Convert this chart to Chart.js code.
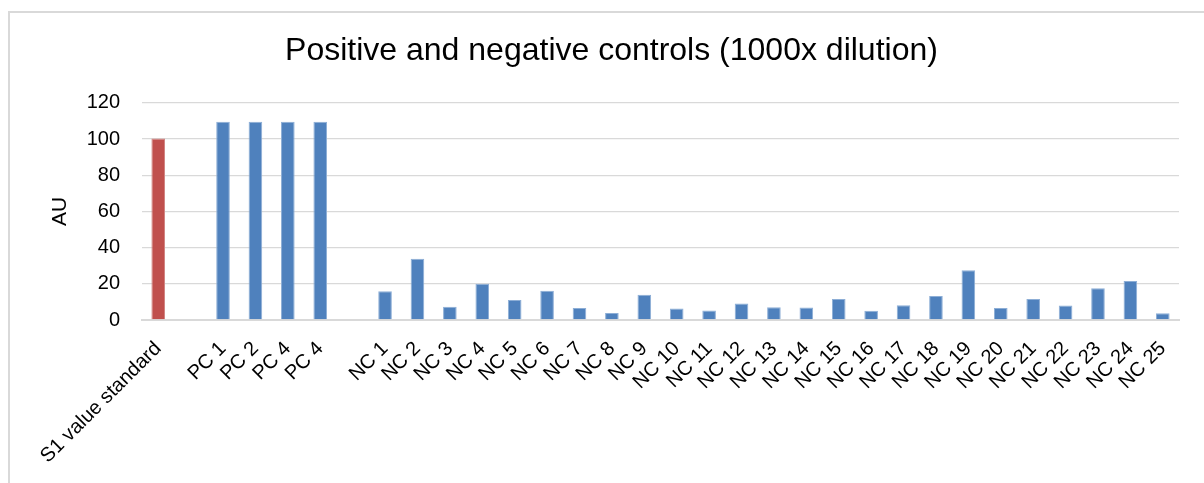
<!DOCTYPE html>
<html>
<head>
<meta charset="utf-8">
<script src="https://cdn.jsdelivr.net/npm/chart.js@4.4.1/dist/chart.umd.min.js"></script>
<style>
  html, body { margin: 0; padding: 0; background: #ffffff; overflow: hidden; }
  #wrap { position: relative; width: 1204px; height: 483px; }
</style>
</head>
<body>
<div id="wrap"><canvas id="c" width="1204" height="483"></canvas></div>
<script>
const categories = [
  "S1 value standard", "",
  "PC 1", "PC 2", "PC 4", "PC 4", "",
  "NC 1", "NC 2", "NC 3", "NC 4", "NC 5", "NC 6", "NC 7", "NC 8", "NC 9", "NC 10",
  "NC 11", "NC 12", "NC 13", "NC 14", "NC 15", "NC 16", "NC 17", "NC 18", "NC 19", "NC 20",
  "NC 21", "NC 22", "NC 23", "NC 24", "NC 25"
];
const auValues = [
  100.3, null,
  109.5, 109.5, 109.5, 109.5, null,
  15.9, 33.8, 7.3, 20.0, 11.0, 16.1, 6.6, 3.8, 13.9, 6.4,
  5.3, 9.1, 7.1, 6.9, 11.6, 5.1, 8.2, 13.2, 27.5, 6.6,
  11.6, 8.0, 17.6, 21.5, 3.7
];
const barGroups = [
  "standard", "",
  "pc", "pc", "pc", "pc", "",
  "nc", "nc", "nc", "nc", "nc", "nc", "nc", "nc", "nc", "nc",
  "nc", "nc", "nc", "nc", "nc", "nc", "nc", "nc", "nc", "nc",
  "nc", "nc", "nc", "nc", "nc"
];
const yTicks = [0, 20, 40, 60, 80, 100, 120];

const groupColor = { standard: "#C0504D", pc: "#4F81BD", nc: "#4F81BD", "": "#4F81BD" };
const groupEdge = { standard: "#D28785", pc: "#8DAED6", nc: "#8DAED6", "": "#8DAED6" };

const FONT = "'Liberation Sans', Arial, sans-serif";

const frame = {
  id: "frame",
  beforeDraw(chart) {
    const ctx = chart.ctx;
    ctx.save();
    ctx.strokeStyle = "#D9D9D9";
    ctx.lineWidth = 2;
    ctx.beginPath();
    ctx.moveTo(9, 490);
    ctx.lineTo(9, 12);
    ctx.lineTo(1210, 12);
    ctx.stroke();
    ctx.restore();
  }
};

new Chart(document.getElementById("c"), {
  type: "bar",
  data: {
    labels: categories,
    datasets: [{
      label: "AU",
      data: auValues,
      backgroundColor: barGroups.map(g => groupColor[g]),
      borderColor: barGroups.map(g => groupEdge[g]),
      borderWidth: 1,
      barPercentage: 0.42,
      categoryPercentage: 1.0
    }]
  },
  options: {
    responsive: false,
    animation: false,
    devicePixelRatio: 1,
    layout: { padding: { left: 44, right: 25, top: 0, bottom: 0 } },
    plugins: {
      legend: { display: false },
      tooltip: { enabled: false },
      title: {
        display: true,
        text: "Positive and negative controls (1000x dilution)",
        color: "#000000",
        font: { family: FONT, size: 32, weight: "normal" },
        padding: { top: 32, bottom: 32.4 }
      }
    },
    scales: {
      x: {
        grid: { display: false, drawTicks: false },
        border: { display: true, color: "#D9D9D9", width: 2 },
        ticks: {
          color: "#000000",
          font: { family: FONT, size: 20 },
          minRotation: 45,
          maxRotation: 45,
          autoSkip: false,
          padding: 17
        },
        afterFit(scale) {
          scale.height = 163;
          scale.paddingLeft = 0;
          scale.paddingRight = 0;
        }
      },
      y: {
        min: 0,
        max: 120,
        afterBuildTicks(scale) {
          scale.ticks = yTicks.map(v => ({ value: v }));
        },
        grid: { color: "#D9D9D9", lineWidth: 1.3, drawTicks: false },
        border: { display: false },
        ticks: {
          color: "#000000",
          font: { family: FONT, size: 20 },
          padding: 22
        },
        title: {
          display: true,
          text: "AU",
          color: "#000000",
          font: { family: FONT, size: 21 },
          padding: { top: 4, bottom: 4 }
        },
        afterFit(scale) {
          scale.width = 98;
          scale.paddingTop = 0;
          scale.paddingBottom = 0;
        }
      }
    }
  },
  plugins: [frame]
});
</script>
</body>
</html>
